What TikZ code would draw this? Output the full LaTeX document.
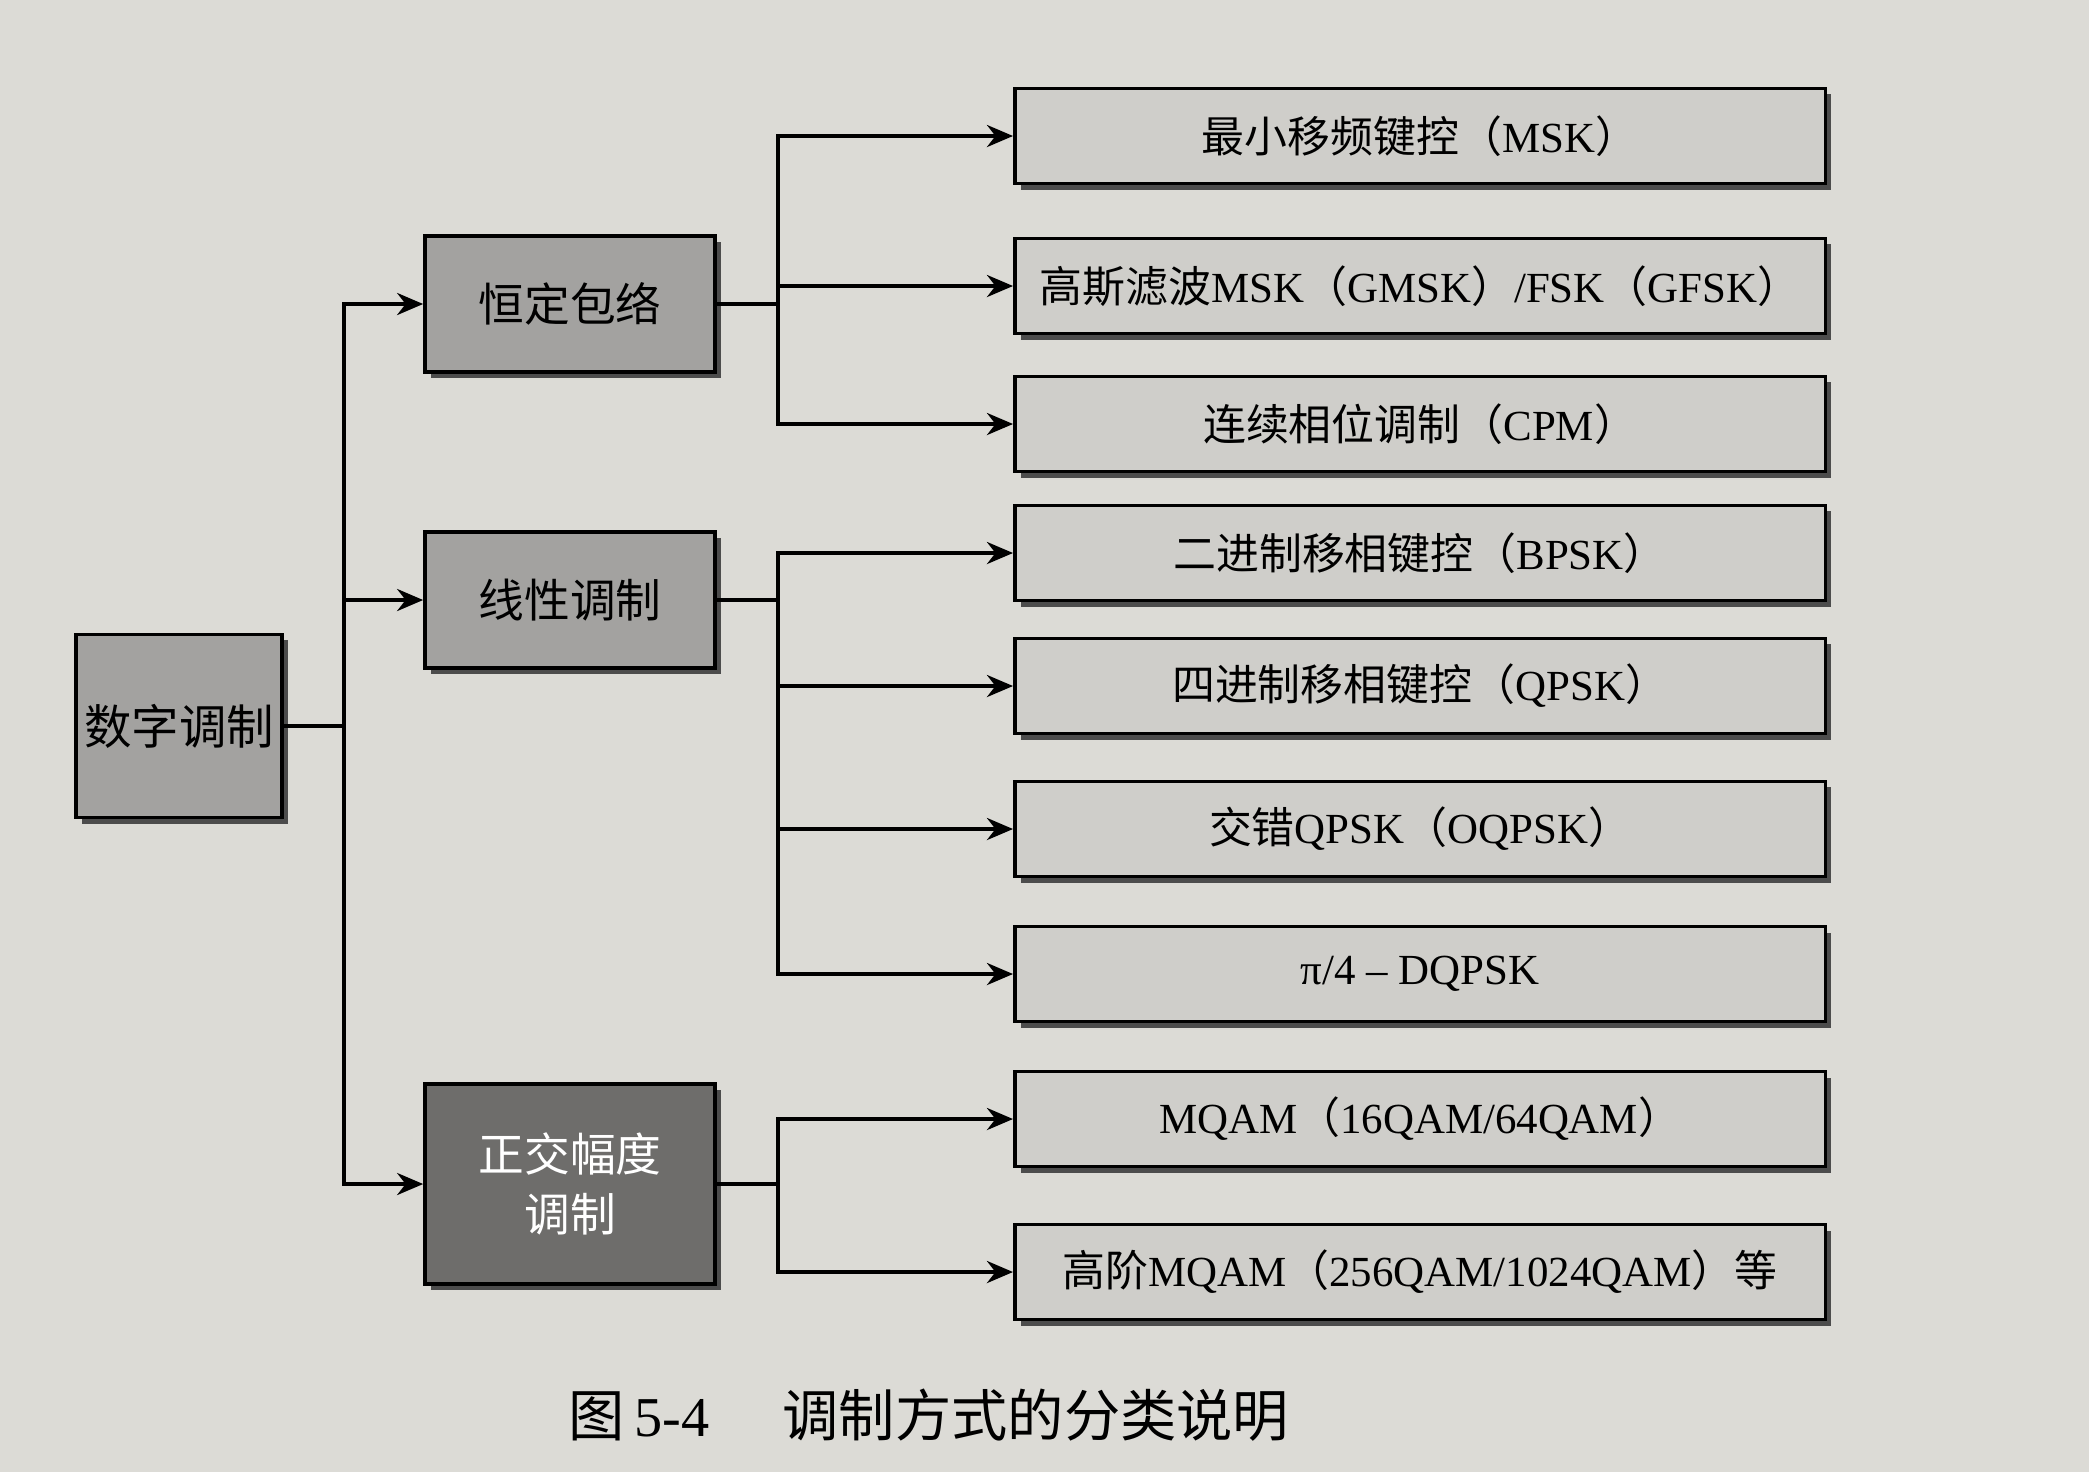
\documentclass[tikz,border=0pt]{standalone}
\usepackage{fontspec}
\setmainfont{Liberation Serif}
\newfontfamily\cjk{Noto Sans CJK SC}
\usetikzlibrary{arrows.meta,shadows}
\newcommand\zlp{{\cjk （}}
\newcommand\zrp{{\cjk ）}}
\definecolor{paper}{HTML}{DCDBD6}
\definecolor{leaf}{HTML}{CFCECA}
\definecolor{midbox}{HTML}{A3A2A0}
\definecolor{darkbox}{HTML}{6E6D6B}
\begin{document}
\begin{tikzpicture}[x=0.01cm,y=-0.01cm,
  box/.style={draw=black, line width=1pt,
    drop shadow={shadow xshift=0.06cm, shadow yshift=-0.06cm, fill=black!70, opacity=1},
    inner sep=0pt, align=center},
  leafbox/.style={box, fill=leaf, minimum width=8.1cm, minimum height=0.95cm,
    font=\fontsize{12.2}{15}\selectfont},
  catbox/.style={box, fill=midbox, minimum width=2.9cm, minimum height=1.36cm,
    font=\cjk\fontsize{13}{17}\selectfont},
  link/.style={line width=1.1pt, draw=black},
  arr/.style={link, -{Stealth[length=2.6mm,width=2.2mm]}},
]
\fill[paper] (0,0) rectangle (2089,1472);
\useasboundingbox (0,0) rectangle (2089,1472);

% root
\node[box, fill=midbox, minimum width=2.06cm, minimum height=1.83cm,
  font=\cjk\fontsize{13.5}{16}\selectfont] (dz) at (179,726) {数字调制};

% categories
\node[catbox] (hd) at (570,304) {恒定包络};
\node[catbox] (xx) at (570,600) {线性调制};
\node[catbox, fill=darkbox, text=white, minimum height=2cm] (zj) at (570,1184) {正交幅度\\调制};

% leaves
\node[leafbox] (m1) at (1420,136) {{\cjk 最小移频键控}\zlp MSK\zrp};
\node[leafbox] (m2) at (1420,286) {{\cjk 高斯滤波}MSK\zlp GMSK\zrp/FSK\zlp GFSK\zrp};
\node[leafbox] (m3) at (1420,424) {{\cjk 连续相位调制}\zlp CPM\zrp};
\node[leafbox] (m4) at (1420,553) {{\cjk 二进制移相键控}\zlp BPSK\zrp};
\node[leafbox] (m5) at (1420,686) {{\cjk 四进制移相键控}\zlp QPSK\zrp};
\node[leafbox] (m6) at (1420,829) {{\cjk 交错}QPSK\zlp OQPSK\zrp};
\node[leafbox] (m7) at (1420,974) {π/4 – DQPSK};
\node[leafbox] (m8) at (1420,1119) {MQAM\zlp 16QAM/64QAM\zrp};
\node[leafbox] (m9) at (1420,1272) {{\cjk 高阶}MQAM\zlp 256QAM/1024QAM\zrp{\cjk 等}};

% caption
\node[font=\fontsize{16}{19}\selectfont] (cap) at (929,1415)
  {{\cjk 图}\,5-4\hspace{1.3em}{\cjk 调制方式的分类说明}};

% connectors
\coordinate (J0) at (344,726);
\draw[link] (dz.east) -- (J0);
\draw[arr] (J0) |- (hd.west);
\draw[arr] (J0) |- (xx.west);
\draw[arr] (J0) |- (zj.west);

\coordinate (J1) at (778,304);
\draw[link] (hd.east) -- (J1);
\draw[arr] (J1) |- (m1.west);
\draw[arr] (J1) |- (m2.west);
\draw[arr] (J1) |- (m3.west);

\coordinate (J2) at (778,600);
\draw[link] (xx.east) -- (J2);
\draw[arr] (J2) |- (m4.west);
\draw[arr] (J2) |- (m5.west);
\draw[arr] (J2) |- (m6.west);
\draw[arr] (J2) |- (m7.west);

\coordinate (J3) at (778,1184);
\draw[link] (zj.east) -- (J3);
\draw[arr] (J3) |- (m8.west);
\draw[arr] (J3) |- (m9.west);
\end{tikzpicture}
\end{document}
